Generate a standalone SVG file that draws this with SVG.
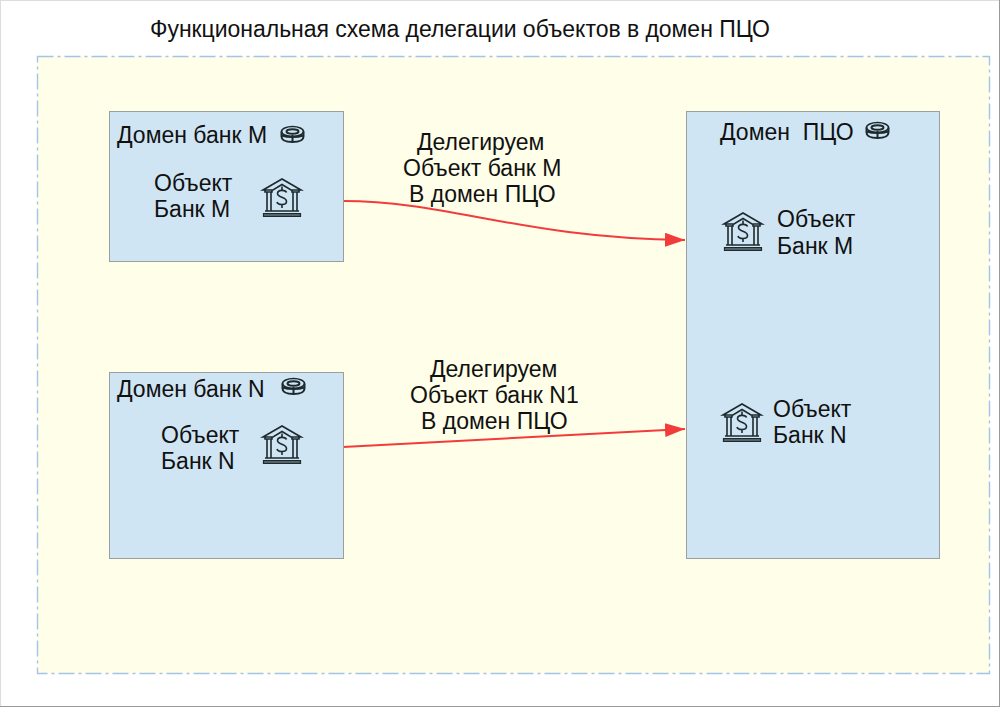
<svg xmlns="http://www.w3.org/2000/svg" width="1000" height="707" viewBox="0 0 1000 707">
<style>
text{font-family:"Liberation Sans",Arial,sans-serif;font-size:23px;fill:#111;white-space:pre}
.dom{fill:#cfe5f3;stroke:#9a9f9f;stroke-width:1}
.ln{fill:none;stroke:#1d2a2e;stroke-width:1.600}
.c{fill:none;stroke:#f23c3c;stroke-width:2}
</style>
<defs>
<marker id="ah" markerUnits="userSpaceOnUse" markerWidth="22" markerHeight="16" refX="20" refY="7" orient="auto"><path d="M0 0L20 7L0 14Z" fill="#f23c3c"/></marker>
<g id="bank" class="ln"><path d="M1 12L20 1L39 12H29L20 6.500L11 12Z"/><path d="M3 12V14H10V12M30 12V14H37V12M5 14V33M9 14V33M31 14V33M35 14V33M3 33H37"/><path d="M1.500 35.500H38.500V38.500H1.500Z" fill="#55646a" stroke-width="1.200"/><path d="M24.500 14.500C23.500 11.500 15.500 11.500 15.500 15.500C15.500 20 24.500 18.500 24.500 23.500C24.500 27.500 16 27.500 15 24M20 8.500V11.500M20 27V30"/></g>
<g id="disk" class="ln"><ellipse cx="12.500" cy="6.500" rx="11" ry="5"/><ellipse cx="12.500" cy="6.500" rx="6" ry="2.300" stroke-width="2"/><path d="M1.500 6.500V11.500C1.500 15 6 17 12.500 17C19 17 23.500 15 23.500 11.500V6.500M12.500 10V17M2 10.500C6 12 9 12 12.500 12C16 12 19 12 23 10.500" stroke-width="2"/></g>
</defs>
<rect x="0.500" y="0.500" width="999" height="706" fill="#fff" stroke="#ddd"/>
<path d="M0 706.500H1000M999.500 0V707" stroke="#999" fill="none"/>
<text id="title" x="150" y="37" textLength="620">Функциональная схема делегации объектов в домен ПЦО</text>
<rect id="frame" x="37.500" y="56.500" width="952" height="617" fill="#fffee8" stroke="#a3c4ea" stroke-width="1.400" stroke-dasharray="16 4 3 4"/>
<g id="connectors">
<path class="c" marker-end="url(#ah)" d="M343 201C450 201 520 238 685 240"/>
<path class="c" marker-end="url(#ah)" d="M343 447L685 429"/>
</g>
<g id="domain-m"><rect class="dom" x="109.500" y="111.500" width="234" height="150"/><text x="117" y="143">Домен банк М</text><use href="#disk" x="280" y="125"/><text x="154" y="191">Объект</text><text x="154" y="217">Банк М</text><use href="#bank" x="262" y="178"/></g>
<g id="domain-n"><rect class="dom" x="109.500" y="372.500" width="234" height="186"/><text x="117" y="397">Домен банк N</text><use href="#disk" x="281" y="377"/><text x="161" y="443">Объект</text><text x="161" y="469">Банк N</text><use href="#bank" x="262" y="425"/></g>
<g id="domain-pco"><rect class="dom" x="686.500" y="111.500" width="253" height="447"/><text x="720" y="140">Домен  ПЦО</text><use href="#disk" x="865" y="121"/><use href="#bank" x="723" y="212"/><text x="777" y="227">Объект</text><text x="777" y="254">Банк М</text><use href="#bank" x="722" y="403"/><text x="773" y="417">Объект</text><text x="773" y="443">Банк N</text></g>
<g id="label-m"><text x="417" y="150">Делегируем</text><text x="403" y="176">Объект банк М</text><text x="409" y="202">В домен ПЦО</text></g>
<g id="label-n"><text x="430" y="377">Делегируем</text><text x="410" y="403">Объект банк N1</text><text x="421" y="429">В домен ПЦО</text></g>
</svg>
